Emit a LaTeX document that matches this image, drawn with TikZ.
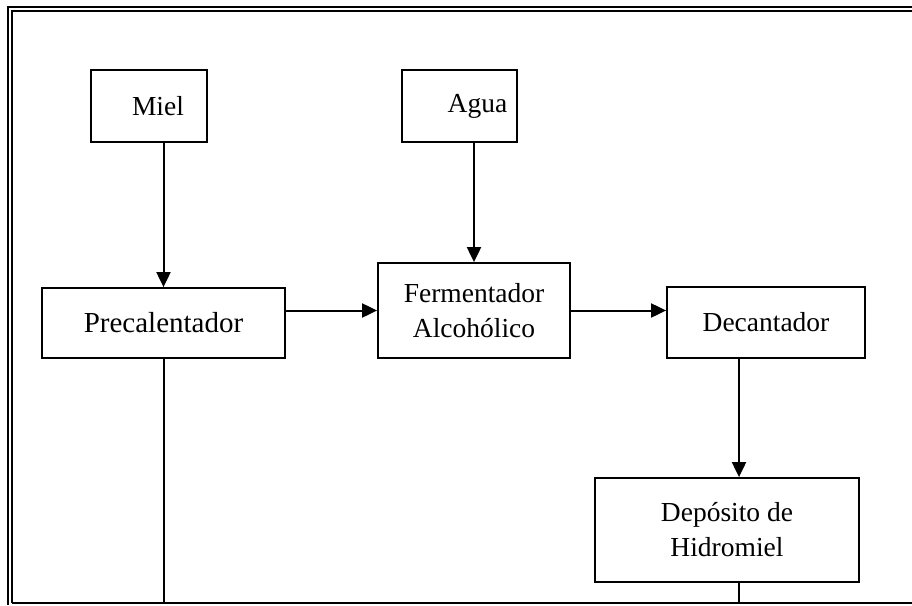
\documentclass[tikz,border=0pt]{standalone}
\usepackage{fontspec}
\setmainfont{Liberation Serif}
\usetikzlibrary{arrows.meta}
\begin{document}
\begin{tikzpicture}[x=1pt,y=-1pt,
  box/.style={draw,line width=1.8pt,inner sep=0pt,align=center,
    font=\fontsize{27.5}{35}\selectfont},
  link/.style={line width=2pt},
  arr/.style={link,-{Triangle[length=15pt,width=14pt]}},
  frame/.style={line width=1.8pt}]
\useasboundingbox (0,0) rectangle (912,605);
% page frame: double rule on top and left, single rule at the foot
\draw[frame] (8,605) -- (8,7) -- (912,7);
\draw[frame] (12,603) -- (12,11) -- (912,11);
\draw[frame] (12,603) -- (912,603);
% process blocks
\node[box,minimum width=116pt,minimum height=72pt] (miel) at (149,106) {\hspace*{18pt}Miel};
\node[box,minimum width=115pt,minimum height=72pt] (agua) at (459.5,106) {\hspace*{36pt}Agua};
\node[box,minimum width=243pt,minimum height=70pt] (pre) at (163.5,323) {\fontsize{29}{35}\selectfont Precalentador};
\node[box,minimum width=192pt,minimum height=95pt] (ferm) at (474,310.5) {Fermentador\\Alcohólico};
\node[box,minimum width=198pt,minimum height=71pt] (dec) at (766,322.5) {Decantador};
\node[box,minimum width=264pt,minimum height=104pt] (dep) at (727,530) {Depósito de\\Hidromiel};
% outlets running to the foot of the page
\coordinate (outA) at (163.5,603);
\coordinate (outB) at (739,603);
% flows
\draw[arr] (pre |- miel.south) -- (pre.north);
\draw[arr] (ferm |- agua.south) -- (ferm.north);
\draw[arr] (pre.east |- ferm) -- (ferm.west);
\draw[arr] (ferm.east) -- (dec.west |- ferm.east);
\draw[arr] (dec.south -| outB) -- (dep.north -| outB);
\draw[link] (pre.south) -- (outA);
\draw[link] (dep.south -| outB) -- (outB);
\end{tikzpicture}
\end{document}
